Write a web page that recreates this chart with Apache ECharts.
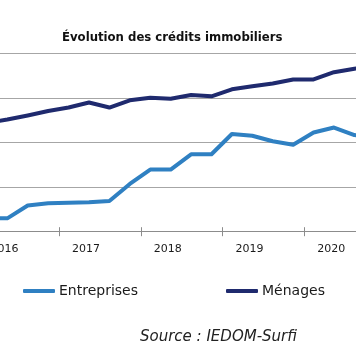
<!DOCTYPE html>
<html>
<head>
<meta charset="utf-8">
<script src="https://cdn.jsdelivr.net/npm/echarts@6/dist/echarts.min.js"></script>
<style>
html,body{margin:0;padding:0;background:#fff;}
#chart{width:356px;height:364px;}
</style>
</head>
<body>
<div id="chart"></div>
<script>
// Quarterly periods (year, quarter)
var periods = ['2016-T1','2016-T2','2016-T3','2016-T4',
               '2017-T1','2017-T2','2017-T3','2017-T4',
               '2018-T1','2018-T2','2018-T3','2018-T4',
               '2019-T1','2019-T2','2019-T3','2019-T4',
               '2020-T1','2020-T2','2020-T3','2020-T4'];
var entreprises = [150,150,294,318,325,330,344,535,697,697,868,868,1095,1076,1014,974,1112,1168,1084,1060];
var menages     = [1219,1258,1303,1353,1392,1448,1392,1473,1502,1490,1532,1518,1596,1630,1662,1707,1707,1788,1827,1857];
var yearLabels  = ['2016','2017','2018','2019','2020'];
var seriesNames = ['Entreprises','Ménages'];
var titleText = 'Évolution des crédits immobiliers';
var sourceText = 'Source : IEDOM-Surfi';

function periodX(p){
  var parts = p.split('-T');
  return parseInt(parts[0],10) + (parseInt(parts[1],10) - 0.5) / 4;
}
function pairs(vals){
  return periods.map(function(p,i){ return [periodX(p), vals[i]]; });
}
var tickVals = yearLabels.slice(1).map(function(y){ return parseInt(y,10) + 0.012; });
var labelVals = yearLabels.map(function(y){ return parseInt(y,10) + 0.34; });

var chart = echarts.init(document.getElementById('chart'), null, {renderer:'canvas'});
var axisMin = 2016.2855, axisMax = 2020.6445;
chart.setOption({
  animation:false,
  backgroundColor:'#ffffff',
  title:{
    text:titleText, left:62, top:31, padding:0,
    textStyle:{fontFamily:'DejaVu Sans Condensed', fontWeight:'bold', fontSize:13, color:'#111'}
  },
  legend:{
    data:seriesNames.map(function(n){ return {name:n, icon:'roundRect'}; }),
    left:23, top:284, padding:0, itemWidth:32, itemHeight:4, itemGap:88,
    textStyle:{fontFamily:'DejaVu Sans', fontSize:14, color:'#1a1a1a', padding:[0,0,0,-1]}
  },
  grid:{left:0, right:0, top:53.3, bottom:132.3, containLabel:false, outerBoundsMode:'none'},
  xAxis:[{
    type:'value', min:axisMin, max:axisMax,
    axisLine:{show:true, lineStyle:{color:'#8c8c8c', width:1}},
    axisTick:{show:true, length:4.5, customValues:tickVals, lineStyle:{color:'#8c8c8c'}},
    splitLine:{show:false},
    axisLabel:{show:true, customValues:labelVals, margin:12,
      fontFamily:'DejaVu Sans', fontSize:11, color:'#1a1a1a',
      formatter:function(v){ return String(Math.floor(v)); }}
  },{
    type:'value', min:axisMin, max:axisMax, position:'bottom',
    axisLine:{show:false},
    axisTick:{show:true, inside:true, length:4.5, customValues:tickVals, lineStyle:{color:'#8c8c8c'}},
    splitLine:{show:false},
    axisLabel:{show:false}
  }],
  yAxis:{
    type:'value', min:0, max:2000, interval:500,
    axisLine:{show:false}, axisTick:{show:false}, axisLabel:{show:false},
    splitLine:{show:true, lineStyle:{color:'#a6a6a6', width:1}}
  },
  graphic:[{
    type:'text', left:140, top:330,
    style:{text:sourceText, fontFamily:'DejaVu Sans', fontStyle:'italic', fontSize:15, fill:'#222'}
  }],
  series:[{
    name:seriesNames[0], type:'line', data:pairs(entreprises),
    symbol:'none', showSymbol:false,
    lineStyle:{color:'#2f80c2', width:4, cap:'round', join:'round'},
    itemStyle:{color:'#2f80c2'}
  },{
    name:seriesNames[1], type:'line', data:pairs(menages),
    symbol:'none', showSymbol:false,
    lineStyle:{color:'#1f2a6e', width:4, cap:'round', join:'round'},
    itemStyle:{color:'#1f2a6e'}
  }]
});
</script>
</body>
</html>
